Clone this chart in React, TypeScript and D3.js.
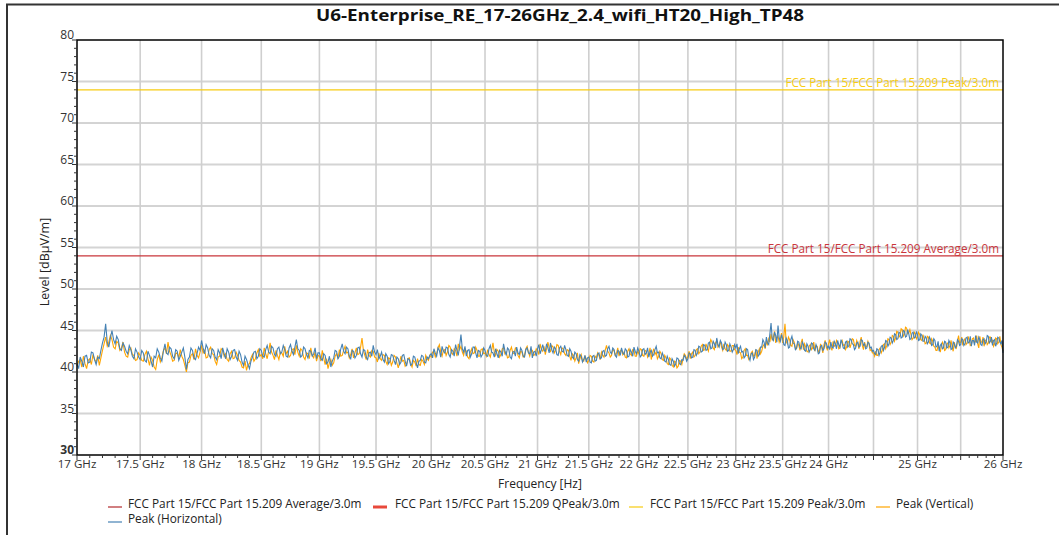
import React from 'react';
import * as d3 from 'd3';

const TITLE = 'U6-Enterprise_RE_17-26GHz_2.4_wifi_HT20_High_TP48';

// sweep 17 - 26 GHz, points evenly spaced in frequency
const F_START = 17;
const F_STOP = 26;

const xLabelTicks = [17, 17.5, 18, 18.5, 19, 19.5, 20, 20.5, 21, 21.5, 22, 22.5, 23, 23.5, 24, 25, 26];
const xGridTicks = [17.5, 18, 18.5, 19, 19.5, 20, 20.5, 21, 21.5, 22, 22.5, 23, 23.5, 24, 24.5, 25, 25.5];
const yTicks = [30, 35, 40, 45, 50, 55, 60, 65, 70, 75, 80];

const limitLines = [
  { name: 'FCC Part 15/FCC Part 15.209 Peak/3.0m', level: 74, color: '#F7CC12' },
  { name: 'FCC Part 15/FCC Part 15.209 Average/3.0m', level: 54, color: '#C9363B' },
];

const legendItems = [
  { name: 'FCC Part 15/FCC Part 15.209 Average/3.0m', color: '#B22A2E', width: 1.2 },
  { name: 'FCC Part 15/FCC Part 15.209 QPeak/3.0m', color: '#E8493B', width: 3 },
  { name: 'FCC Part 15/FCC Part 15.209 Peak/3.0m', color: '#F7CC12', width: 1.2 },
  { name: 'Peak (Vertical)', color: '#FFA500', width: 1.2 },
  { name: 'Peak (Horizontal)', color: '#4682B4', width: 1.2 },
];

// dBµV/m, 12.5 MHz steps (one row = 0.5 GHz)
const peakVertical = [
  40.7, 41.3, 41.5, 40.6, 41.9, 41.0, 40.4, 41.4, 41.6, 40.9, 42.1, 41.5, 41.2, 42.0, 40.8, 41.7, 42.6, 43.4, 44.2, 43.1, 43.6, 44.4, 43.9, 43.0, 42.8, 43.7, 43.5, 42.6, 42.9, 43.6, 42.4, 41.9, 41.8, 42.7, 42.9, 42.1, 42.0, 41.4, 41.5, 42.3,
  42.0, 41.4, 41.3, 42.1, 42.5, 41.6, 40.8, 41.8, 41.4, 40.6, 40.3, 41.5, 42.1, 41.2, 41.7, 42.6, 42.9, 42.2, 43.6, 42.5, 42.0, 41.3, 41.4, 42.2, 42.3, 41.7, 42.7, 41.9, 41.5, 40.8, 40.0, 41.1, 41.2, 42.0, 42.2, 41.5, 42.8, 42.0, 41.7, 42.4,
  43.2, 42.3, 42.6, 41.7, 41.8, 42.7, 43.0, 42.2, 42.1, 41.3, 40.9, 41.8, 41.9, 42.8, 42.6, 41.9, 42.2, 41.5, 41.3, 42.2, 42.5, 41.6, 41.7, 42.4, 42.0, 41.4, 41.2, 40.6, 40.5, 41.3, 40.2, 40.9, 41.0, 41.7, 42.1, 41.3, 41.6, 42.3, 42.7, 41.9,
  42.1, 41.6, 42.9, 42.2, 41.6, 42.5, 43.5, 42.4, 42.0, 41.5, 42.6, 42.0, 41.5, 42.4, 42.3, 41.9, 43.1, 42.2, 42.5, 41.8, 42.0, 42.7, 42.8, 42.1, 43.2, 42.4, 41.9, 42.8, 42.6, 41.8, 41.5, 42.3, 42.2, 41.6, 42.9, 42.0, 41.7, 42.4, 41.3, 42.0,
  41.9, 41.3, 42.6, 41.7, 40.9, 41.6, 40.4, 41.1, 41.5, 40.8, 41.1, 41.9, 42.2, 41.6, 42.7, 41.9, 42.0, 42.6, 43.1, 42.3, 42.4, 41.7, 42.1, 42.8, 41.7, 42.3, 42.9, 42.1, 42.2, 43.0, 44.1, 42.6, 42.0, 41.5, 42.7, 42.0, 41.8, 42.6, 42.5, 41.8,
  41.7, 41.2, 42.3, 41.6, 41.4, 42.1, 42.0, 41.3, 40.9, 41.7, 41.6, 40.8, 41.2, 42.0, 41.8, 41.1, 40.5, 41.2, 41.9, 41.3, 41.4, 40.7, 40.9, 41.6, 41.7, 41.0, 40.6, 41.4, 41.2, 40.7, 41.6, 40.9, 40.8, 41.5, 41.3, 40.9, 42.0, 41.6, 41.4, 42.0,
  41.8, 42.4, 42.5, 41.8, 42.2, 42.9, 43.3, 42.4, 41.9, 42.6, 42.7, 42.0, 42.4, 43.2, 43.0, 42.3, 42.1, 42.8, 42.6, 41.9, 43.4, 42.7, 43.1, 42.4, 42.0, 42.8, 42.5, 41.8, 41.6, 42.4, 42.8, 42.2, 42.3, 43.0, 42.6, 41.9, 41.9, 42.7, 42.8, 42.2,
  42.3, 41.9, 42.7, 42.1, 41.8, 42.6, 43.5, 42.4, 42.0, 42.7, 42.5, 41.8, 42.1, 42.8, 42.9, 42.2, 42.4, 41.7, 41.8, 42.6, 43.0, 42.3, 42.2, 42.9, 42.7, 42.0, 41.7, 42.5, 42.4, 41.8, 42.0, 42.8, 43.1, 42.4, 41.9, 42.6, 42.6, 42.0, 42.1, 42.8,
  42.6, 42.1, 43.4, 42.7, 42.5, 43.1, 42.1, 42.8, 43.6, 42.9, 42.4, 43.2, 43.0, 42.3, 42.6, 43.3, 43.2, 42.5, 42.1, 42.9, 42.8, 42.2, 42.0, 42.7, 42.6, 41.9, 41.4, 42.2, 42.0, 41.3, 41.7, 42.3, 41.0, 41.6, 42.1, 41.4, 41.3, 41.9, 41.6, 41.1,
  41.4, 42.0, 41.9, 41.3, 41.2, 41.9, 41.7, 42.3, 42.0, 41.5, 42.4, 42.0, 41.8, 42.6, 43.2, 42.5, 42.3, 41.8, 42.0, 42.7, 42.6, 42.0, 42.3, 42.9, 41.9, 42.5, 42.7, 42.1, 42.4, 41.8, 41.7, 42.5, 42.8, 42.2, 42.0, 42.7, 42.6, 41.9, 41.9, 42.5,
  42.2, 42.8, 42.7, 42.0, 41.9, 42.6, 42.5, 41.8, 42.2, 42.9, 41.5, 42.3, 42.8, 42.1, 42.4, 41.6, 41.9, 42.5, 42.2, 41.5, 41.4, 42.0, 41.7, 41.0, 40.9, 41.7, 41.5, 40.8, 40.6, 41.3, 41.2, 40.5, 40.7, 41.4, 41.3, 40.9, 41.6, 42.2, 42.0, 41.5,
  41.9, 42.5, 41.6, 42.2, 42.4, 41.8, 42.0, 42.7, 42.8, 42.2, 42.4, 43.1, 43.3, 42.6, 42.7, 43.4, 42.9, 42.5, 43.3, 43.9, 43.6, 42.9, 42.7, 43.5, 43.8, 43.0, 43.2, 43.7, 43.0, 42.6, 43.4, 42.8, 42.6, 43.3, 43.1, 42.5, 42.5, 43.2, 43.2, 42.7,
  42.6, 42.1, 43.0, 42.4, 42.3, 41.6, 41.8, 42.6, 42.8, 42.0, 42.0, 41.5, 41.7, 42.3, 42.5, 41.9, 42.0, 42.7, 41.6, 42.4, 42.8, 42.2, 42.5, 43.1, 43.3, 42.8, 43.8, 43.2, 44.0, 43.6, 44.6, 43.9, 44.2, 44.9, 43.5, 44.1, 44.3, 43.6, 44.0, 44.7,
  43.5, 44.3, 45.8, 43.7, 43.4, 44.2, 43.9, 43.2, 43.1, 43.9, 43.6, 42.9, 42.8, 43.5, 43.2, 42.6, 43.5, 44.0, 42.7, 43.4, 43.0, 42.5, 42.4, 43.1, 43.3, 42.7, 42.9, 43.6, 42.5, 43.2, 43.1, 42.4, 42.6, 43.4, 42.9, 42.3, 43.3, 43.8, 43.0, 42.6,
  43.4, 43.9, 43.0, 42.6, 43.7, 43.1, 43.2, 43.8, 43.5, 42.8, 42.9, 43.6, 43.8, 43.2, 43.3, 42.7, 43.0, 43.7, 43.6, 42.9, 43.4, 44.0, 43.9, 43.2, 43.1, 43.8, 43.4, 42.8, 43.7, 44.2, 43.2, 42.7, 43.6, 43.0, 43.1, 43.7, 43.3, 42.6, 42.7, 42.3,
  42.3, 41.9, 42.5, 42.0, 42.0, 42.7, 42.9, 42.3, 42.6, 43.3, 43.4, 42.8, 43.2, 44.0, 43.9, 43.3, 43.6, 44.4, 44.3, 43.7, 44.1, 44.9, 44.8, 44.2, 44.4, 45.2, 45.1, 44.3, 44.5, 45.4, 45.3, 44.6, 44.7, 45.1, 44.5, 43.9, 44.1, 44.8, 44.6, 44.0,
  44.2, 44.8, 44.5, 43.9, 43.8, 44.5, 44.0, 43.4, 43.5, 44.3, 44.2, 43.5, 43.4, 44.0, 43.7, 43.1, 43.0, 42.6, 42.6, 43.3, 42.8, 42.4, 43.1, 43.6, 43.3, 42.6, 42.7, 43.4, 43.5, 42.9, 43.2, 43.8, 43.0, 42.5, 43.6, 43.1, 42.9, 43.7, 44.4, 43.5,
  43.6, 44.2, 43.2, 43.8, 44.0, 43.3, 43.5, 44.3, 43.8, 43.2, 43.3, 44.0, 44.1, 43.5, 43.7, 44.4, 43.4, 42.9, 44.3, 43.6, 43.6, 44.2, 43.1, 43.7, 43.9, 43.3, 43.5, 44.2, 44.2, 43.6, 43.8, 43.1, 43.4, 44.1, 44.0, 43.4, 43.6, 44.3, 43.3, 43.0,
  42.5,
];

const peakHorizontal = [
  41.0, 40.4, 41.8, 41.3, 40.6, 41.9, 42.0, 41.1, 41.2, 42.4, 42.3, 41.5, 40.9, 41.8, 41.6, 42.6, 43.5, 44.2, 45.8, 43.6, 43.0, 44.1, 45.0, 43.9, 43.4, 44.3, 43.9, 42.8, 42.6, 43.5, 43.1, 42.5, 42.2, 43.2, 42.7, 41.9, 41.6, 42.8, 42.4, 41.8,
  41.5, 42.6, 42.3, 41.4, 41.2, 42.5, 42.0, 41.3, 40.6, 41.9, 41.7, 42.8, 42.4, 41.7, 41.3, 42.5, 43.4, 42.3, 42.1, 43.0, 42.8, 41.9, 41.6, 42.7, 42.5, 41.4, 41.9, 42.4, 42.9, 41.8, 40.3, 41.5, 41.8, 42.9, 42.6, 41.7, 41.5, 42.2, 43.0, 42.6,
  43.8, 42.9, 42.2, 43.3, 42.9, 42.0, 41.7, 42.8, 42.6, 41.8, 41.5, 42.7, 42.3, 41.6, 42.9, 42.2, 41.6, 42.8, 42.4, 41.5, 41.9, 42.6, 42.7, 41.8, 41.4, 42.5, 42.1, 41.2, 40.8, 41.9, 41.5, 40.9, 40.4, 41.3, 41.8, 42.4, 42.5, 41.6, 41.9, 42.8,
  42.6, 41.9, 41.8, 42.7, 43.2, 42.4, 42.2, 43.1, 42.9, 42.1, 41.9, 42.8, 43.0, 42.2, 42.4, 43.2, 42.7, 41.9, 41.8, 42.9, 43.3, 42.5, 42.1, 43.0, 43.9, 42.8, 42.6, 41.8, 42.0, 43.0, 42.8, 42.1, 41.7, 42.6, 42.5, 41.9, 42.2, 42.9, 41.6, 42.3,
  42.3, 41.6, 41.4, 42.2, 42.0, 41.0, 41.2, 41.9, 40.6, 41.3, 41.7, 42.6, 42.5, 41.6, 41.9, 42.8, 43.4, 42.5, 42.2, 43.0, 42.8, 41.9, 41.6, 42.6, 42.5, 41.7, 42.0, 42.9, 43.0, 42.2, 41.8, 42.7, 42.6, 41.8, 41.5, 42.3, 42.4, 41.9, 43.2, 42.4,
  42.1, 42.7, 41.6, 41.9, 42.4, 41.5, 41.2, 42.2, 41.9, 41.0, 41.3, 42.1, 42.0, 41.4, 40.9, 41.8, 41.6, 40.9, 41.2, 42.0, 42.1, 41.3, 40.7, 41.6, 41.5, 40.8, 41.0, 41.9, 41.8, 41.1, 40.5, 41.3, 41.4, 42.0, 41.9, 41.2, 41.1, 41.8, 41.6, 42.0,
  42.2, 41.7, 42.8, 42.3, 41.9, 42.9, 42.6, 41.8, 43.1, 42.5, 42.3, 43.0, 42.9, 42.1, 41.8, 42.7, 42.5, 41.9, 43.3, 42.6, 42.0, 43.2, 44.5, 42.8, 42.4, 43.1, 41.9, 42.6, 42.7, 41.8, 42.2, 43.0, 43.0, 42.3, 41.7, 42.6, 42.5, 41.8, 42.1, 42.9,
  42.6, 42.0, 41.9, 42.8, 43.2, 42.4, 42.3, 41.8, 42.8, 42.2, 41.7, 42.6, 42.4, 41.9, 43.4, 42.6, 42.0, 42.9, 42.7, 41.8, 41.6, 42.4, 42.5, 41.9, 43.0, 42.3, 42.1, 42.9, 42.6, 41.9, 41.8, 42.7, 42.9, 42.3, 42.2, 43.1, 41.7, 42.4, 42.5, 41.9,
  42.8, 43.3, 42.2, 42.7, 43.3, 42.6, 42.5, 43.4, 42.9, 42.3, 43.5, 42.7, 42.3, 43.0, 42.8, 42.1, 42.0, 42.9, 43.1, 42.5, 42.4, 43.2, 42.7, 42.0, 41.9, 42.8, 42.5, 41.8, 41.6, 42.4, 42.2, 41.5, 41.3, 42.1, 41.9, 41.2, 41.5, 42.0, 41.2, 41.7,
  41.8, 41.2, 41.1, 41.9, 42.0, 41.3, 41.4, 42.2, 42.3, 41.6, 41.7, 42.5, 42.6, 41.9, 42.0, 42.8, 43.1, 42.4, 42.2, 42.9, 42.7, 42.0, 41.8, 42.6, 42.5, 42.0, 42.9, 42.3, 42.1, 42.8, 42.6, 41.8, 41.9, 42.7, 42.4, 41.9, 43.0, 42.5, 42.2, 42.9,
  42.5, 41.8, 42.0, 42.7, 42.8, 42.1, 42.3, 42.9, 41.8, 42.4, 42.6, 41.9, 42.1, 42.7, 43.1, 42.3, 42.4, 41.7, 41.6, 42.3, 41.9, 41.3, 41.2, 41.9, 41.5, 40.9, 40.8, 41.6, 41.3, 40.7, 41.0, 41.7, 41.6, 41.0, 40.9, 41.5, 41.4, 42.0, 41.8, 41.3,
  41.6, 42.3, 42.2, 41.7, 41.8, 42.7, 42.6, 42.0, 42.3, 43.1, 43.0, 42.4, 42.5, 43.3, 43.2, 42.6, 42.7, 43.5, 43.6, 42.8, 42.9, 43.7, 43.4, 42.9, 44.1, 43.3, 43.0, 43.8, 43.5, 42.7, 42.8, 43.6, 43.3, 42.5, 42.6, 43.4, 43.0, 42.4, 42.7, 43.3,
  42.9, 43.4, 42.2, 42.8, 43.1, 42.4, 42.5, 41.7, 41.9, 42.8, 42.7, 41.8, 41.4, 42.2, 42.3, 41.5, 41.8, 42.7, 42.6, 41.9, 42.1, 43.0, 43.0, 43.9, 43.6, 42.9, 44.2, 43.5, 43.3, 44.6, 45.9, 44.0, 43.8, 44.8, 44.4, 43.6, 45.6, 44.1, 43.7, 44.5,
  44.0, 43.3, 43.2, 44.1, 43.8, 42.9, 43.0, 43.9, 44.3, 43.5, 43.4, 42.7, 42.9, 43.7, 43.6, 42.9, 42.8, 43.6, 43.3, 42.6, 42.5, 43.4, 43.1, 42.4, 42.7, 43.5, 43.4, 42.8, 42.6, 43.3, 42.9, 42.2, 42.3, 43.1, 43.2, 42.6, 42.8, 43.6, 43.5, 42.9,
  43.1, 42.7, 43.6, 43.0, 42.9, 43.7, 43.4, 42.8, 43.8, 43.3, 43.0, 43.9, 43.5, 42.9, 42.8, 43.6, 43.7, 43.0, 43.2, 44.0, 43.9, 43.4, 43.3, 42.7, 42.9, 43.5, 43.6, 43.0, 43.1, 43.9, 43.8, 43.2, 43.4, 42.8, 42.9, 43.6, 43.5, 42.9, 43.0, 42.5,
  42.6, 42.2, 42.1, 42.8, 42.7, 42.0, 42.4, 43.1, 43.2, 42.6, 43.0, 43.8, 43.7, 43.1, 43.4, 44.2, 44.1, 43.5, 43.8, 44.6, 44.5, 43.9, 44.0, 44.8, 44.7, 44.1, 44.2, 45.0, 44.9, 44.2, 44.3, 45.1, 44.6, 43.9, 44.0, 44.7, 44.8, 44.1, 44.2, 44.9,
  44.5, 43.8, 43.9, 44.6, 44.4, 43.7, 43.7, 44.3, 44.1, 43.4, 43.6, 44.2, 43.9, 43.2, 43.3, 44.0, 43.8, 43.0, 43.1, 43.7, 42.5, 43.2, 43.4, 42.8, 42.9, 43.7, 43.6, 42.9, 43.0, 43.8, 43.5, 42.7, 42.8, 43.6, 43.4, 42.9, 43.1, 43.9, 43.7, 43.2,
  43.3, 44.0, 43.9, 43.2, 43.4, 44.1, 44.2, 43.5, 43.6, 44.3, 43.1, 43.8, 43.8, 43.2, 44.4, 43.6, 43.5, 44.2, 43.9, 43.3, 43.2, 43.9, 44.0, 43.4, 43.6, 44.4, 44.3, 43.5, 43.7, 44.2, 43.2, 43.8, 43.9, 43.1, 43.5, 44.2, 44.1, 43.6, 43.4, 43.8,
  42.3,
];

const W = 1059;
const H = 535;
const m = { left: 77, right: 1003, top: 40, bottom: 455 };
const FONT = "'Open Sans', 'Noto Sans', sans-serif";

const legendPos = [
  { mx: 108, tx: 128, ty: 508 },
  { mx: 373, tx: 395, ty: 508 },
  { mx: 629, tx: 650, ty: 508 },
  { mx: 876, tx: 896, ty: 508 },
  { mx: 108, tx: 128, ty: 523 },
];

export default function App() {
  const x = d3.scaleLog().domain([F_START, F_STOP]).range([m.left, m.right]);
  const y = d3.scaleLinear().domain([30, 80]).range([m.bottom, m.top]);

  const freqAt = (i: number, n: number) => F_START + (i * (F_STOP - F_START)) / (n - 1);
  const line = (vals: number[]) =>
    d3.line<number>()
      .x((_, i) => x(freqAt(i, vals.length)))
      .y(d => y(d))(vals) || '';

  const yMinor = d3.range(30, 81, 1);
  const xMinor = d3.range(170, 261, 1).map(v => v / 10);
  const fmtGHz = (v: number) => `${v} GHz`;

  return (
    <svg width={W} height={H} style={{ position: 'absolute', left: 0, top: 0, background: '#fff' }}
      fontFamily={FONT}>
      {/* outer frame */}
      <path d={`M7,${H} V4.5 H${W}`} fill="none" stroke="#333" strokeWidth={2} />

      <text x={560} y={21} textAnchor="middle" fontSize={16} fontWeight="bold" fill="#111"
        textLength={488} lengthAdjust="spacingAndGlyphs">{TITLE}</text>

      {/* grid */}
      {yTicks.filter(t => t > 30 && t < 80).map(t => (
        <line key={'gy' + t} x1={m.left} x2={m.right} y1={y(t)} y2={y(t)}
          stroke={t % 10 === 0 ? '#a8a8a8' : '#d4d4d4'} strokeWidth={t % 10 === 0 ? 1 : 2} />
      ))}
      {xGridTicks.map(t => (
        <line key={'gx' + t} x1={x(t)} x2={x(t)} y1={m.top} y2={m.bottom}
          stroke="#cfcfcf" strokeWidth={1.6} />
      ))}

      {/* limit lines */}
      {limitLines.map(l => (
        <g key={l.name}>
          <line x1={m.left} x2={m.right} y1={y(l.level)} y2={y(l.level)} stroke={l.color} strokeWidth={1.3} />
          <text x={m.right - 4} y={y(l.level) - 3} textAnchor="end" fontSize={11.7} fill={l.color}>{l.name}</text>
        </g>
      ))}

      {/* traces */}
      <path d={line(peakVertical)} fill="none" stroke="#FFA500" strokeWidth={1.1} />
      <path d={line(peakHorizontal)} fill="none" stroke="#4682B4" strokeWidth={1.1} />

      {/* plot frame */}
      <rect x={m.left} y={m.top} width={m.right - m.left} height={m.bottom - m.top}
        fill="none" stroke="#000" strokeWidth={1.5} />

      {/* y axis */}
      {yMinor.map(t => (
        <line key={'ym' + t} x1={m.left} x2={m.left - (t % 5 === 0 ? 5 : 3)} y1={y(t)} y2={y(t)}
          stroke="#333" strokeWidth={1} />
      ))}
      {yTicks.map(t => (
        <text key={'yl' + t} x={m.left - 3} y={y(t) - 1} textAnchor="end" fontSize={12}
          fill="#333" fontWeight={t === 30 ? 'bold' : 'normal'}>{t}</text>
      ))}
      <text transform={`translate(49,262) rotate(-90)`} textAnchor="middle"
        fontSize={12.5} fill="#222">Level [dBµV/m]</text>

      {/* x axis */}
      {xMinor.map(t => (
        <line key={'xm' + t} x1={x(t)} x2={x(t)} y1={m.bottom} y2={m.bottom + (Math.abs(t * 2 - Math.round(t * 2)) < 1e-6 ? 5 : 3)}
          stroke="#333" strokeWidth={1} />
      ))}
      {xLabelTicks.map(t => (
        <text key={'xl' + t} x={x(t)} y={m.bottom + 13} textAnchor="middle" fontSize={11.6} fill="#333">{fmtGHz(t)}</text>
      ))}
      <text x={540} y={488} textAnchor="middle" fontSize={12} fill="#222">Frequency [Hz]</text>

      {/* legend */}
      {legendItems.map((it, i) => {
        const pos = legendPos[i];
        return (
          <g key={it.name}>
            <line x1={pos.mx} x2={pos.mx + 14} y1={pos.ty - 1} y2={pos.ty - 1} stroke={it.color} strokeWidth={it.width} />
            <text x={pos.tx} y={pos.ty} fontSize={11.8} fill="#222">{it.name}</text>
          </g>
        );
      })}
    </svg>
  );
}
